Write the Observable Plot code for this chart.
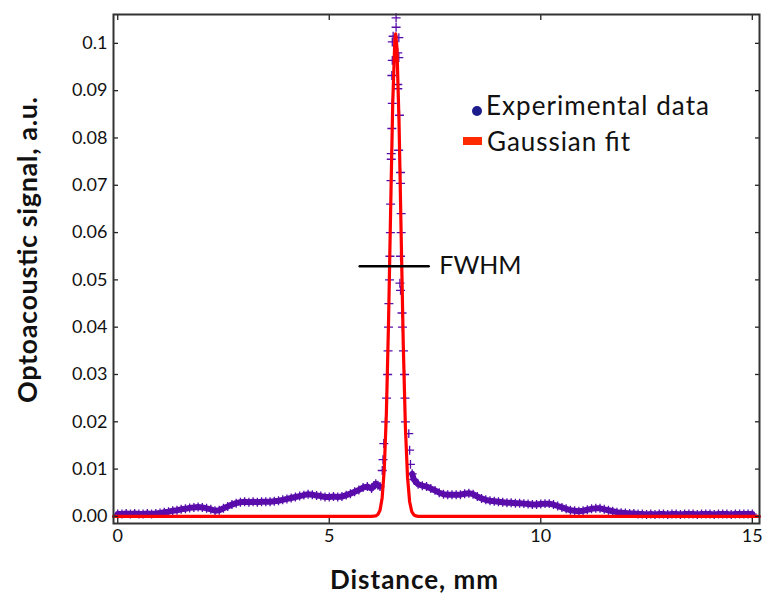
<!DOCTYPE html>
<html><head><meta charset="utf-8">
<script src="https://cdn.jsdelivr.net/npm/d3@7"></script>
<script src="https://cdn.jsdelivr.net/npm/@observablehq/plot@0.6"></script>
<style>body{margin:0;background:#fff}#chart svg{font-family:Lato,sans-serif;background:#fff}</style>
</head><body><div id="chart"></div>
<script>
// Experimental data (distance, mm ; signal, a.u.)
const expX = [0.0,0.1,0.2,0.3,0.4,0.5,0.6,0.7,0.8,0.9,1.0,1.1,1.2,1.3,1.4,1.5,1.6,1.7,1.8,1.9,
  2.0,2.1,2.2,2.3,2.4,2.5,2.6,2.7,2.8,2.9,3.0,3.1,3.2,3.3,3.4,3.5,3.6,3.7,3.8,3.9,
  4.0,4.1,4.2,4.3,4.4,4.5,4.6,4.7,4.8,4.9,5.0,5.1,5.2,5.3,5.4,5.5,5.6,5.7,5.8,5.9,
  6.0,6.05,6.1,6.15,6.2,
  6.253,6.27,6.29,6.33,6.355,6.38,6.39,6.40,6.41,6.425,6.435,6.445,6.45,6.46,6.465,6.465,6.48,6.49,6.48,6.49,6.49,6.51,6.58,6.58,
  6.645,6.62,6.645,6.62,6.62,6.66,6.64,6.685,6.685,6.70,6.70,6.685,6.67,6.685,6.72,6.73,6.755,6.78,6.79,6.80,6.88,6.90,6.92,6.96,
  7.0,7.1,7.2,7.3,7.4,7.5,7.6,7.7,7.8,7.9,8.0,8.1,8.2,8.3,8.4,8.5,8.6,8.7,8.8,8.9,
  9.0,9.1,9.2,9.3,9.4,9.5,9.6,9.7,9.8,9.9,10.0,10.1,10.2,10.3,10.4,10.5,10.6,10.7,10.8,10.9,
  11.0,11.1,11.2,11.3,11.4,11.5,11.6,11.7,11.8,11.9,12.0,12.1,12.2,12.3,12.4,12.5,12.6,12.7,12.8,12.9,
  13.0,13.1,13.2,13.3,13.4,13.5,13.6,13.7,13.8,13.9,14.0,14.1,14.2,14.3,14.4,14.5,14.6,14.7,14.8,14.9,15.0];
const expY = [0.0005,0.0005,0.0006,0.0005,0.0006,0.0005,0.0005,0.0006,0.0005,0.0006,0.0007,0.0009,0.0010,0.0012,0.0013,0.0015,0.0016,0.0018,0.0019,0.0020,
  0.0019,0.0017,0.0015,0.0012,0.0013,0.0017,0.0021,0.0025,0.0028,0.0030,0.0031,0.0030,0.0031,0.0030,0.0031,0.0031,0.0031,0.0032,0.0033,0.0035,
  0.0037,0.0039,0.0041,0.0043,0.0045,0.0047,0.0046,0.0044,0.0043,0.0041,0.0041,0.0042,0.0041,0.0042,0.0045,0.0048,0.0052,0.0056,0.0061,0.0063,
  0.0059,0.0065,0.0069,0.0066,0.0063,
  0.0097,0.012,0.0154,0.020,0.025,0.030,0.035,0.040,0.045,0.050,0.055,0.060,0.066,0.071,0.0755,0.0767,0.082,0.0873,0.0932,0.0964,0.1003,0.1015,0.1034,0.1054,
  0.1012,0.098,0.097,0.0913,0.0904,0.0848,0.0774,0.0727,0.0704,0.064,0.060,0.055,0.0493,0.0478,0.043,0.040,0.035,0.030,0.025,0.020,0.0175,0.014,0.011,0.009,
  0.0078,0.0068,0.0065,0.0063,0.0059,0.0055,0.0050,0.0047,0.0046,0.0046,0.0046,0.0046,0.0048,0.0049,0.0047,0.0042,0.0038,0.0035,0.0033,0.0032,
  0.0031,0.0030,0.0029,0.0029,0.0028,0.0028,0.0027,0.0026,0.0025,0.0025,0.0026,0.0027,0.0027,0.0025,0.0022,0.0019,0.0016,0.0013,0.0012,0.0011,
  0.0012,0.0014,0.0016,0.0017,0.0017,0.0015,0.0013,0.0011,0.0009,0.0008,0.0007,0.0006,0.0006,0.0005,0.0005,0.0004,0.0005,0.0004,0.0005,0.0005,
  0.0004,0.0005,0.0005,0.0004,0.0005,0.0005,0.0005,0.0004,0.0005,0.0005,0.0005,0.0004,0.0005,0.0005,0.0005,0.0004,0.0005,0.0005,0.0005,0.0005,0.0005];

// Gaussian fit curve
const fitX = [-0.1,6.0,6.1,6.15,6.2,6.25,6.3,6.35,6.4,6.45,6.5,6.55,6.57,6.6,6.65,6.7,6.75,6.8,6.85,6.9,6.95,7.0,7.05,7.1,15.17];
const fitY = [0,0,0.0001,0.0004,0.0013,0.0039,0.0099,0.0217,0.0405,0.0643,0.0872,0.1007,0.102,0.0991,0.0831,0.0594,0.0362,0.0188,0.0083,0.0031,0.0010,0.0003,0.0001,0,0];

// FWHM marker
const fwhmX = [5.72, 7.35];
const fwhmY = [0.0529, 0.0529];
const fwhmLabel = "FWHM";

const xTicks = [0, 5, 10, 15];
const xTickLabels = ["0", "5", "10", "15"];
const yTicks = [0, 0.01, 0.02, 0.03, 0.04, 0.05, 0.06, 0.07, 0.08, 0.09, 0.1];
const yTickLabels = ["0.00","0.01","0.02","0.03","0.04","0.05","0.06","0.07","0.08","0.09","0.1"];
const seriesNames = ["Experimental data", "Gaussian fit"];
const xTitle = "Distance, mm";
const yTitle = "Optoacoustic signal, a.u.";

const expData = expX.map((x, i) => ({x, y: expY[i]}));
const fitData = fitX.map((x, i) => ({x, y: fitY[i]}));
const fwhmData = fwhmX.map((x, i) => ({x, y: fwhmY[i]}));
const xLab = new Map(xTicks.map((t, i) => [t, xTickLabels[i]]));
const yLab = new Map(yTicks.map((t, i) => [t, yTickLabels[i]]));

const W = 765, H = 595, mL = 113, mR = 6, mT = 14, mB = 72;
const purple = "#5a0cab";

const chart = Plot.plot({
  width: W, height: H,
  marginLeft: mL, marginRight: mR, marginTop: mT, marginBottom: mB,
  style: {fontFamily: "Lato, sans-serif", background: "#fff"},
  x: {domain: [-0.1, 15.17], label: null},
  y: {domain: [-0.0015, 0.1061], label: null},
  marks: [
    Plot.line(expData, {x: "x", y: d => d.y < 0.0095 ? d.y : NaN, stroke: purple, strokeWidth: 6}),
    Plot.dot(expData, {x: "x", y: "y", symbol: "plus", r: 3, stroke: purple, strokeWidth: 1.3}),
    Plot.line(fitData, {x: "x", y: "y", stroke: "#ff0000", strokeWidth: 3.2}),
    Plot.line(fwhmData, {x: "x", y: "y", stroke: "#000", strokeWidth: 2.5}),
    Plot.text([fwhmLabel], {x: 7.6, y: 0.0529, text: d => d, textAnchor: "start", fontSize: 25, fill: "#111"}),
    Plot.axisX(xTicks, {anchor: "bottom", tickSize: -5, tickFormat: () => "", stroke: "#222", strokeWidth: 1.3}),
    Plot.axisX(xTicks, {anchor: "top", tickSize: -5, tickFormat: () => "", stroke: "#222", strokeWidth: 1.3}),
    Plot.axisY(yTicks, {anchor: "left", tickSize: -5, tickFormat: () => "", stroke: "#222", strokeWidth: 1.3}),
    Plot.axisY(yTicks, {anchor: "right", tickSize: -5, tickFormat: () => "", stroke: "#222", strokeWidth: 1.3}),
    Plot.axisX(xTicks, {anchor: "bottom", tickSize: 0, tickPadding: 6, tickFormat: d => xLab.get(d), fontSize: 18, fill: "#111"}),
    Plot.axisY(yTicks, {anchor: "left", tickSize: 0, tickPadding: 6, tickFormat: d => yLab.get(d), fontSize: 18, fill: "#111"}),
    Plot.frame({stroke: "#333", strokeWidth: 2})
  ]
});
document.getElementById("chart").appendChild(chart);

const svg = d3.select(chart);
svg.append("text").attr("x", 414).attr("y", 589).attr("text-anchor", "middle")
  .attr("font-size", 26).attr("font-weight", 700).attr("fill", "#111")
  .attr("textLength", 168).attr("lengthAdjust", "spacing").text(xTitle);
svg.append("text").attr("transform", "translate(37,250) rotate(-90)").attr("text-anchor", "middle")
  .attr("font-size", 27).attr("font-weight", 700).attr("fill", "#111")
  .attr("textLength", 306).attr("lengthAdjust", "spacing").text(yTitle);

const lg = svg.append("g").attr("text-anchor", "start");
lg.append("circle").attr("cx", 477).attr("cy", 111).attr("r", 5).attr("fill", "#1c1c8c");
lg.append("text").attr("x", 486).attr("y", 115).attr("text-anchor", "start").attr("font-size", 26).attr("fill", "#111")
  .attr("textLength", 223).attr("lengthAdjust", "spacing").text(seriesNames[0]);
lg.append("rect").attr("x", 463).attr("y", 137).attr("width", 19).attr("height", 8).attr("fill", "#ff2a00");
lg.append("text").attr("x", 487).attr("y", 151).attr("text-anchor", "start").attr("font-size", 26).attr("fill", "#111")
  .attr("textLength", 143).attr("lengthAdjust", "spacing").text(seriesNames[1]);
</script></body></html>
